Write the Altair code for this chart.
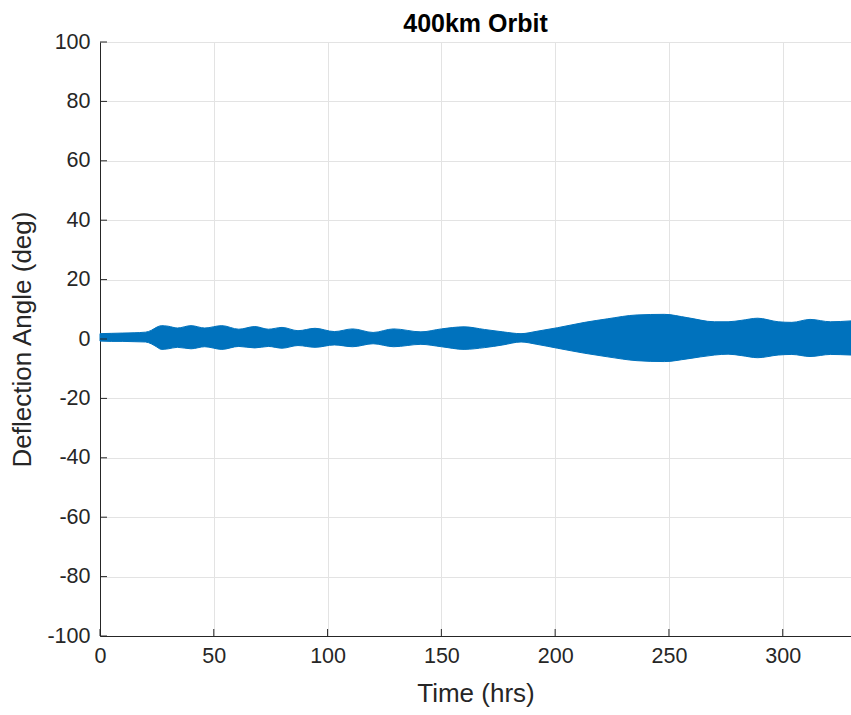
import altair as alt
import pandas as pd

# Envelope of the deflection-angle signal
time_hrs = [0, 5, 10, 15, 20, 22.5, 25, 27, 30, 34, 40, 46, 53.5, 61, 68,
            74, 80, 87, 94.5, 103, 111, 120, 129, 141, 150, 160, 169, 177, 185, 192,
            201, 213, 223, 236, 248, 258, 270, 276, 282, 289, 298, 304, 312, 321, 330]
upper_deg = [1.8, 1.9, 2.0, 2.1, 2.3, 2.9, 4.0, 4.5, 4.3, 3.7, 4.5, 3.7, 4.5, 3.3, 4.2,
             3.3, 3.9, 2.8, 3.6, 2.5, 3.4, 2.2, 3.4, 2.4, 3.4, 4.1, 3.2, 2.4, 1.8, 2.6,
             3.8, 5.6, 6.8, 8.1, 8.3, 7.2, 5.8, 5.8, 6.3, 7.0, 5.8, 5.6, 6.6, 5.8, 6.1]
lower_deg = [-0.7, -0.8, -0.8, -0.9, -1.0, -1.6, -2.7, -3.5, -3.3, -2.8, -3.3, -2.6, -3.5, -2.5, -3.0,
             -2.5, -3.1, -2.2, -2.8, -2.0, -2.6, -1.6, -2.6, -1.8, -2.6, -3.5, -2.9, -2.0, -1.0, -1.8,
             -3.1, -4.8, -6.0, -7.3, -7.6, -6.7, -5.4, -5.1, -5.6, -6.3, -5.4, -5.2, -5.9, -5.2, -5.4]

x_ticks = [0, 50, 100, 150, 200, 250, 300]
y_ticks = [-100, -80, -60, -40, -20, 0, 20, 40, 60, 80, 100]

W, H = 751, 594
FONT = "Liberation Sans"
AX = "#262626"

df = pd.DataFrame({"t": time_hrs, "hi": upper_deg, "lo": lower_deg})
xs = alt.Scale(domain=[0, 330], nice=False, zero=False)
ys = alt.Scale(domain=[-100, 100], nice=False)

band = alt.Chart(df).mark_area(
    color="#0072BD", interpolate="monotone", opacity=1,
    stroke="#0072BD", strokeWidth=1
).encode(
    x=alt.X("t:Q", scale=xs, axis=alt.Axis(
        values=x_ticks, title="Time (hrs)", grid=True, ticks=False,
        gridColor="#e3e3e3", domainColor=AX, labelColor=AX, titleColor=AX,
        labelFont=FONT, titleFont=FONT, labelFontSize=21.5, titleFontSize=26,
        titleFontWeight="normal", labelPadding=9, titleY=57, titleBaseline="middle",
        labelFlush=False, labelExpr="'' + datum.value")),
    y=alt.Y("hi:Q", scale=ys, axis=alt.Axis(
        values=y_ticks, title="Deflection Angle (deg)", grid=True, ticks=False,
        gridColor="#e3e3e3", domainColor=AX, labelColor=AX, titleColor=AX,
        labelFont=FONT, titleFont=FONT, labelFontSize=21.5, titleFontSize=26,
        titleFontWeight="normal", labelPadding=10, titleX=-78, titleY=H / 2,
        titleBaseline="middle", labelFlush=False, labelExpr="'' + datum.value")),
    y2="lo:Q",
)

xt = alt.Chart(pd.DataFrame({"t": x_ticks})).mark_rule(color=AX, strokeWidth=1).encode(
    x=alt.X("t:Q", scale=xs), y=alt.value(H), y2=alt.value(H - 7))
yt = alt.Chart(pd.DataFrame({"hi": y_ticks})).mark_rule(color=AX, strokeWidth=1).encode(
    y=alt.Y("hi:Q", scale=ys), x=alt.value(0), x2=alt.value(7))

chart = alt.layer(band, xt, yt).properties(
    width=W, height=H,
    title=alt.TitleParams("400km Orbit", font=FONT, fontSize=25, fontWeight="bold",
                          color="black", anchor="middle", offset=8, frame="group",
                          baseline="top", dy=14),
    autosize=alt.AutoSizeParams(type="none"),
    padding={"left": 100, "top": 42, "right": 0, "bottom": 79},
).configure_view(stroke=None).configure(background="white")

chart.save("out.html", embed_options={"renderer": "svg", "actions": False})
